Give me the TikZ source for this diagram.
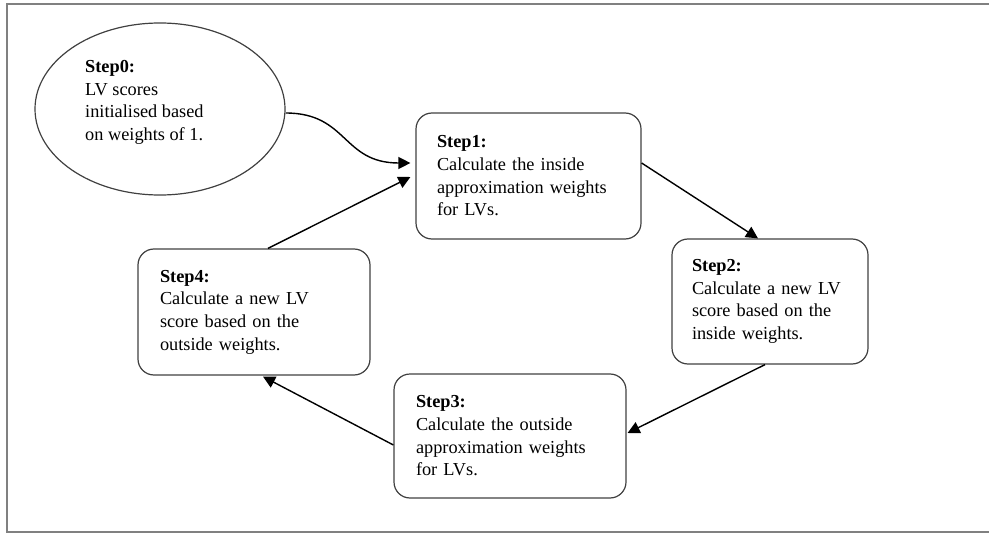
\documentclass[tikz,border=0pt]{standalone}
\usepackage{fontspec}
\setmainfont{Liberation Serif}
\usetikzlibrary{arrows.meta,calc,shapes.geometric}
\definecolor{boxline}{HTML}{404040}
\definecolor{frameline}{HTML}{808080}
\newcommand{\oneline}[1]{\mbox{#1}}
\begin{document}
\begin{tikzpicture}[x=1pt,y=-1pt,
  font=\fontsize{18.3}{22.7}\selectfont,
  stepbox/.style={draw=boxline, line width=1.2pt, rounded corners=16pt, align=left, inner ysep=0pt},
  arr/.style={draw=black, line width=1.4pt, -{Triangle[length=12pt,width=12pt]}},
  txt/.style={align=left, inner sep=0pt}]
\useasboundingbox (0,0) rectangle (989,535);
% frame (open on the right)
\draw[frameline, line width=2pt] (989,4) -- (7,4) -- (7,532) -- (989,532);

\node[draw=boxline, line width=1.2pt, ellipse, minimum width=250pt, minimum height=172pt, inner sep=0pt] (s0) at (160,109) {};
\node[txt, anchor=west] (t0) at (85,102.5) {\textbf{Step0:}\\LV scores\\initialised based\\on weights of 1.};

\node[stepbox, minimum width=225pt, minimum height=126pt, inner xsep=21pt, text width=183pt] (s1) at (528.5,176)
  {\textbf{Step1:}\\\oneline{Calculate the inside}\\\oneline{approximation weights}\\\oneline{for LVs.}};
\node[stepbox, minimum width=196pt, minimum height=125pt, inner xsep=20pt, text width=156pt] (s2) at (770,301.5)
  {\textbf{Step2:}\\\oneline{Calculate a new LV}\\\oneline{score based on the}\\\oneline{inside weights.}};
\node[stepbox, minimum width=232pt, minimum height=124pt, inner xsep=22pt, text width=188pt] (s3) at (510,436)
  {\textbf{Step3:}\\\oneline{Calculate the outside}\\\oneline{approximation weights}\\\oneline{for LVs.}};
\node[stepbox, minimum width=232pt, minimum height=126pt, inner xsep=22pt, text width=188pt] (s4) at (254,312)
  {\textbf{Step4:}\\\oneline{Calculate a new LV}\\\oneline{score based on the}\\\oneline{outside weights.}};

\draw[arr] ($(s0.east)+(0,4)$) .. controls (348,113) and (342,163) .. ($(s1.west)+(-5,-13)$);
\draw[arr] ($(s1.east)+(0,-13)$) -- ($(s2.north)+(-12,0)$);
\draw[arr] ($(s2.south)+(-5,0)$) -- ($(s3.east)+(1,-3)$);
\draw[arr] ($(s3.west)+(0,9)$) -- ($(s4.south)+(9,1)$);
\draw[arr] ($(s4.north)+(14,0)$) -- ($(s1.west)+(-5,1)$);
\end{tikzpicture}
\end{document}
